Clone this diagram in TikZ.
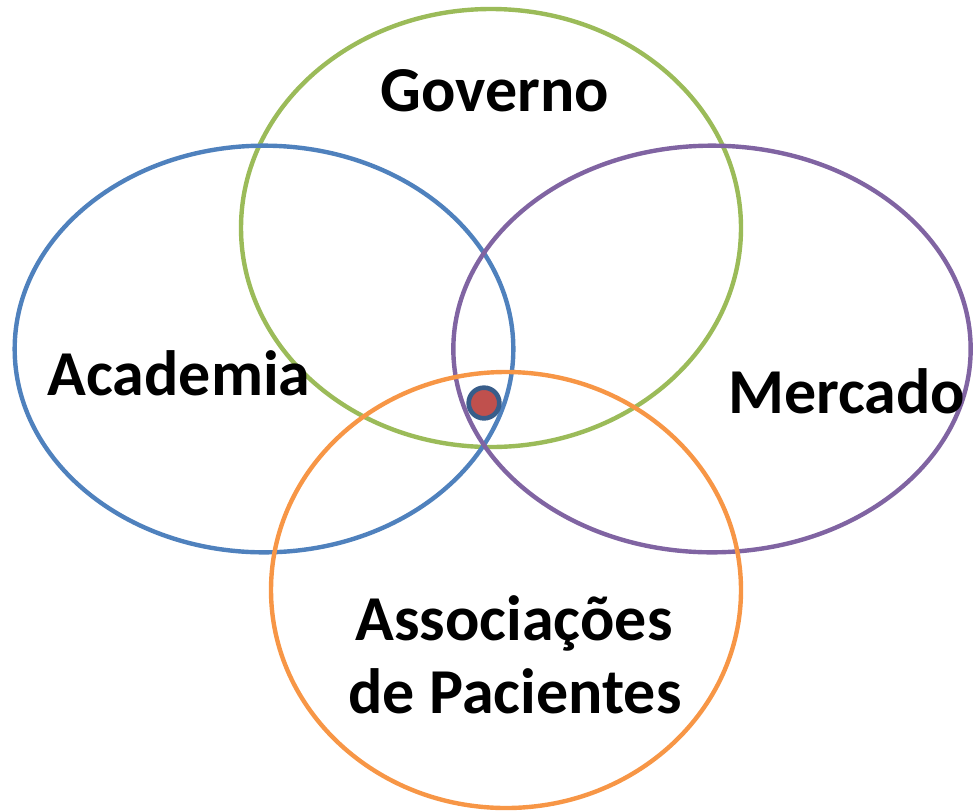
\documentclass[tikz,border=0pt]{standalone}
\usepackage{fontspec}
\setmainfont{Carlito}
\usetikzlibrary{shapes.geometric, positioning}

\definecolor{acadblue}{HTML}{4F81BD}
\definecolor{govgreen}{HTML}{9BBB59}
\definecolor{mercpurple}{HTML}{8064A2}
\definecolor{assocorange}{HTML}{F79646}
\definecolor{dotred}{HTML}{C0504D}
\definecolor{dotrim}{HTML}{385D8A}

\begin{document}
\begin{tikzpicture}[x=0.75pt, y=-0.75pt,
  sector/.style={ellipse, draw, line width=3.3pt, inner sep=0pt},
  label/.style={font=\bfseries\fontsize{48}{58}\selectfont, anchor=base, align=center}]
  \useasboundingbox (0,0) rectangle (973,811);
  \node[sector, govgreen, minimum width=375pt, minimum height=328.5pt] (gov) at (491,228) {};
  \node[sector, acadblue, minimum width=374pt, minimum height=305pt] (acad) at (264,349) {};
  \node[sector, mercpurple, minimum width=388pt, minimum height=305pt] (merc) at (712,349) {};
  \node[sector, assocorange, minimum width=352.5pt, minimum height=327pt] (assoc) at (506,590) {};
  \node[circle, draw=dotrim, fill=dotred, line width=3.5pt, minimum size=23pt, inner sep=0pt] (core) at (484,403) {};

  \node[label] (govtext) at (495,111) {Governo};
  \node[label] (acadtext) at (179,395) {Academia};
  \node[label] (merctext) at (847,413) {Mercado};
  \node[label] (assoctext) at (514,640) {Associações};
  \node[label] (pactext) at (515,713) {de Pacientes};
\end{tikzpicture}
\end{document}
